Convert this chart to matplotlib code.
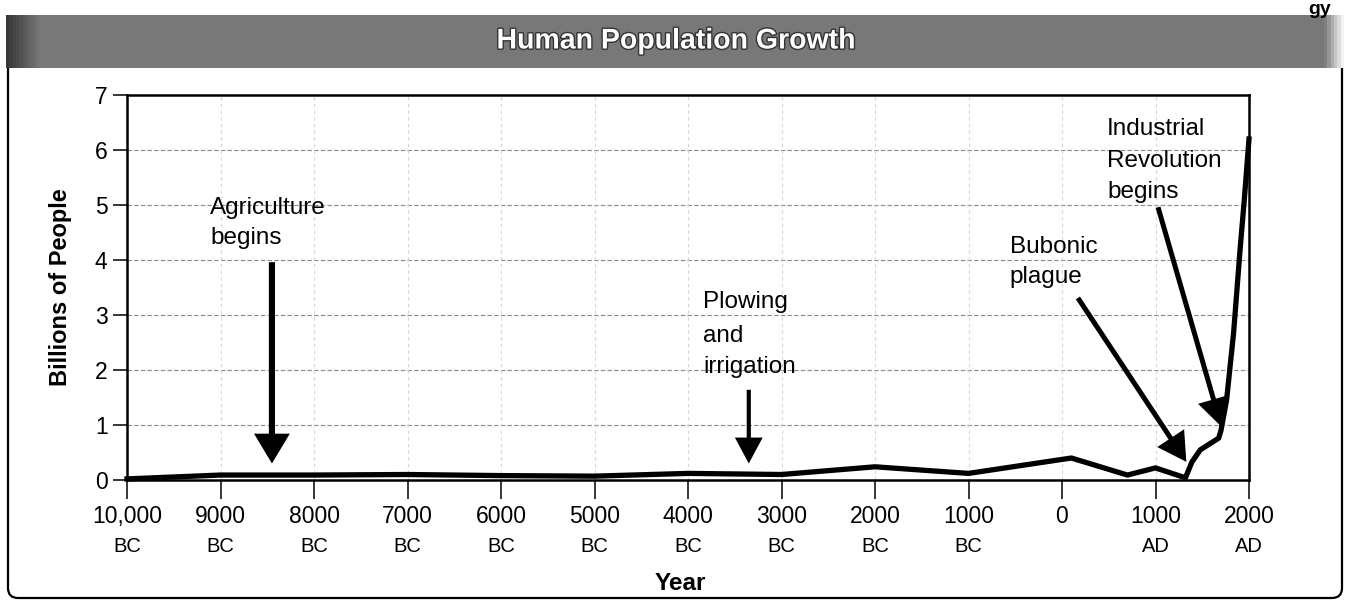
import matplotlib
matplotlib.use("Agg")
import matplotlib.pyplot as plt
import numpy as np
from matplotlib.patches import FancyBboxPatch, FancyArrowPatch
from matplotlib.transforms import blended_transform_factory
import matplotlib.patheffects as pe

plt.rcParams['font.family'] = ['Liberation Sans', 'DejaVu Sans']

# ---- data ----
years = [-10000, -9000, -8000, -7000, -6000, -5000, -4000, -3000, -2000, -1000,
         100, 700, 1000, 1320, 1390, 1480, 1675, 1700, 1760, 1835, 1905, 1950, 2000]
population = [0.02, 0.09, 0.09, 0.10, 0.08, 0.07, 0.12, 0.10, 0.24, 0.12,
              0.40, 0.09, 0.22, 0.04, 0.33, 0.55, 0.76, 0.90, 1.45, 2.67, 4.20, 5.10, 6.20]

xticks = [-10000, -9000, -8000, -7000, -6000, -5000, -4000, -3000, -2000, -1000, 0, 1000, 2000]
xtick_numbers = ["10,000", "9000", "8000", "7000", "6000", "5000", "4000", "3000",
                 "2000", "1000", "0", "1000", "2000"]
xtick_eras = ["BC", "BC", "BC", "BC", "BC", "BC", "BC", "BC", "BC", "BC", "", "AD", "AD"]
yticks = [0, 1, 2, 3, 4, 5, 6, 7]

# annotations: lines of text (x, baseline y per line), arrow tail, arrow tip
annotations = [
    (["Agriculture", "begins"], -9112, [4.84, 4.29], (-8450, 3.96), (-8450, 0.30)),
    (["Plowing", "and", "irrigation"], -3840, [3.13, 2.51, 1.95], (-3350, 1.64), (-3350, 0.30)),
    (["Bubonic", "plague"], -560, [4.13, 3.58], (170, 3.31), (1330, 0.33)),
    (["Industrial", "Revolution", "begins"], 481, [6.27, 5.69, 5.13], (1027, 4.96), (1705, 0.97)),
]
arrow_styles = [(4.4, 15, 9.0), (3.0, 14, 7.5), (3.6, 15, 8.5), (3.6, 15, 8.5)]

W, H = 1346, 606
fig = plt.figure(figsize=(W / 100, H / 100), dpi=100)
fig.patch.set_facecolor('white')

# outer frame (pixel coordinates, origin bottom-left)
frame = FancyBboxPatch((8, 8), 1334, 540, boxstyle="round,pad=0,rounding_size=10",
                       transform=None, facecolor='none', edgecolor='black', lw=1.6, zorder=-1)
fig.patches.append(frame)

# banner with gradient ends
bax = fig.add_axes([6 / W, 1 - 68 / H, 1338 / W, 53 / H])
bax.set_zorder(3)
grad = np.ones(400) * 0.47
grad[:10] = np.linspace(0.22, 0.45, 10)
grad[-6:] = np.linspace(0.5, 0.95, 6)
bax.imshow(grad[np.newaxis, :], aspect='auto', cmap='gray', vmin=0, vmax=1,
           extent=[0, 1, 0, 1])
bax.set_axis_off()
bax.text((676 - 6) / 1338, 0.50, "Human Population Growth", ha='center', va='center',
         color='white', fontsize=20.5, fontweight='bold',
         path_effects=[pe.withStroke(linewidth=2.0, foreground='#333333')])

fig.text(1308 / W, 1 - 1 / H, "gy", ha='left', va='top', fontsize=14, fontweight='bold')

# main axes
ax = fig.add_axes([127 / W, 1 - 480 / H, (1249 - 127) / W, (480 - 95) / H])
ax.set_xlim(-10000, 2000)
ax.set_ylim(0, 7)

for y in yticks[1:-1]:
    ax.axhline(y, color='#8a8a8a', lw=0.8, ls=(0, (4, 2)), zorder=1)
for x in xticks[1:-1]:
    ax.axvline(x, color='#d6d6d6', lw=0.8, ls=(0, (3, 3)), zorder=1)

ax.plot(years, population, color='black', lw=3.8, solid_joinstyle='round', zorder=4,
        clip_on=False)

for sp in ax.spines.values():
    sp.set_linewidth(1.8)
    sp.set_color('black')

ax.set_xticks(xticks)
ax.set_xticklabels(xtick_numbers, fontsize=16.5)
ax.set_yticks(yticks)
ax.set_yticklabels([str(v) for v in yticks], fontsize=16.5)
ax.tick_params(axis='x', direction='out', length=14, width=1.1, pad=4)
ax.tick_params(axis='y', direction='out', length=10, width=1.1, pad=4)

trans = blended_transform_factory(ax.transData, ax.transAxes)
for x, era in zip(xticks, xtick_eras):
    ax.text(x, -0.174, era, transform=trans, ha='center', va='center', fontsize=14.5)

fig.text(61 / W, 1 - 287 / H, "Billions of People", rotation=90, ha='center', va='center',
         fontsize=17, fontweight='bold')
fig.text(680 / W, 1 - 583 / H, "Year", ha='center', va='center', fontsize=17.5,
         fontweight='bold')

for (lines, tx, tys, tail, tip), (lw, hl, hw) in zip(annotations, arrow_styles):
    for line, ty in zip(lines, tys):
        ax.text(tx, ty, line, ha='left', va='baseline', fontsize=17.5, zorder=6)
    arr = FancyArrowPatch(tail, tip, arrowstyle=f"-|>,head_length={hl},head_width={hw}",
                          mutation_scale=1, lw=lw, color='black', shrinkA=0, shrinkB=0,
                          joinstyle='miter', capstyle='butt', zorder=5)
    ax.add_patch(arr)

fig.savefig("out.png", dpi=100, facecolor='white')
